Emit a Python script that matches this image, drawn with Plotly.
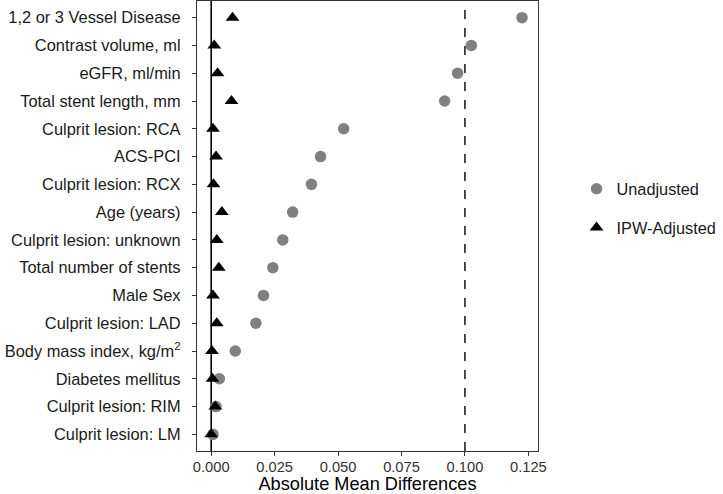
import plotly.graph_objects as go

categories = [
    "1,2 or 3 Vessel Disease",
    "Contrast volume, ml",
    "eGFR, ml/min",
    "Total stent length, mm",
    "Culprit lesion: RCA",
    "ACS-PCI",
    "Culprit lesion: RCX",
    "Age (years)",
    "Culprit lesion: unknown",
    "Total number of stents",
    "Male Sex",
    "Culprit lesion: LAD",
    "Body mass index, kg/m<sup>2</sup>",
    "Diabetes mellitus",
    "Culprit lesion: RIM",
    "Culprit lesion: LM",
]
unadjusted = [0.1225, 0.1025, 0.0971, 0.0920, 0.0522, 0.0431, 0.0395, 0.0321,
              0.0282, 0.0243, 0.0206, 0.0176, 0.0095, 0.0032, 0.0019, 0.0007]
ipw_adjusted = [0.0084, 0.0012, 0.0025, 0.0080, 0.0007, 0.0019, 0.0009, 0.0042,
                0.0022, 0.0030, 0.0007, 0.0022, 0.0003, 0.0005, 0.0016, 0.0000]
x_ticks = [0.0, 0.025, 0.05, 0.075, 0.1, 0.125]
x_ticklabels = ["0.000", "0.025", "0.050", "0.075", "0.100", "0.125"]
threshold = 0.1

font = "Liberation Sans, Arial, sans-serif"

fig = go.Figure()
fig.add_trace(go.Scatter(
    x=unadjusted, y=categories, mode="markers", name="Unadjusted",
    marker=dict(symbol="circle", size=11.5, color="#808080"),
    legend="legend",
))
fig.add_trace(go.Scatter(
    x=ipw_adjusted, y=categories, mode="markers", name="IPW-Adjusted",
    marker=dict(symbol="triangle-up", size=12, color="black"),
    legend="legend2",
))

fig.add_shape(type="line", xref="x", yref="paper", x0=0, x1=0, y0=0, y1=1,
              line=dict(color="black", width=1.6), layer="below")
fig.add_shape(type="line", xref="x", yref="paper", x0=threshold, x1=threshold, y0=0, y1=1,
              line=dict(color="#222222", width=1.6, dash="dash"), layer="below")

legend_common = dict(xanchor="left", yanchor="middle", bgcolor="rgba(0,0,0,0)",
                     font=dict(size=16.3, color="#1a1a1a"), itemsizing="trace")

fig.update_layout(
    width=723, height=494,
    margin=dict(l=197, r=182, t=1, b=43),
    plot_bgcolor="white", paper_bgcolor="white",
    font=dict(family=font, size=14, color="black"),
    showlegend=True,
    legend=dict(x=1.113, y=0.582, **legend_common),
    legend2=dict(x=1.113, y=0.496, **legend_common),
    xaxis=dict(
        range=[-0.0056, 0.1288], tickvals=x_ticks, ticktext=x_ticklabels,
        showgrid=False, zeroline=False, showline=True, mirror=True,
        linecolor="#333333", linewidth=1.3,
        ticks="outside", ticklen=4, tickcolor="#333333",
        tickfont=dict(size=14.7, color="#333333"),
        ticklabelstandoff=-2,
        automargin=False,
        title=dict(text="Absolute Mean Differences", font=dict(size=18.2, color="black"), standoff=6),
    ),
    yaxis=dict(
        type="category", categoryorder="array", categoryarray=categories,
        range=[15.6, -0.6],
        showgrid=False, zeroline=False, showline=True, mirror=True,
        linecolor="#333333", linewidth=1.3,
        ticks="outside", ticklen=4, tickcolor="#333333",
        tickfont=dict(size=16.4, color="#1a1a1a"),
        ticklabelstandoff=8,
        automargin=False,
    ),
)

fig.write_html("out.html")
